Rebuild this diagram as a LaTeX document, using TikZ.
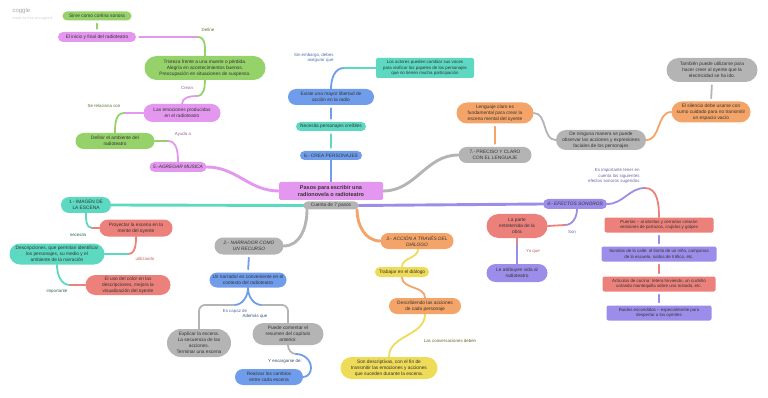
\documentclass[tikz,border=0pt]{standalone}
\usepackage{fontspec}
\setmainfont{Liberation Sans}
\usetikzlibrary{shapes.misc}
\pgfdeclarelayer{background}
\pgfsetlayers{background,main}

\definecolor{cgreen}{HTML}{96D26A}
\definecolor{cpink}{HTML}{E397EE}
\definecolor{cteal}{HTML}{5DD9C1}
\definecolor{cblue}{HTML}{6F9DEB}
\definecolor{cgray}{HTML}{B4B4B4}
\definecolor{corange}{HTML}{F4A468}
\definecolor{cyellow}{HTML}{EEDB58}
\definecolor{cred}{HTML}{EC817B}
\definecolor{cpurple}{HTML}{9D8DEB}
\definecolor{ctext}{HTML}{333333}

\tikzset{
  pill/.style={fill=#1, rounded rectangle, align=center, inner sep=1pt, text=ctext, font=\fontsize{4.8}{6}\selectfont},
  tag/.style={fill=#1, rounded corners=2pt, align=center, inner sep=1pt, text=ctext, font=\fontsize{4.4}{5.6}\selectfont},
  link/.style={draw=#1, line width=1.8pt, line cap=round},
  trunk/.style={draw=#1, line width=2.9pt, line cap=round},
  lbl/.style={text=#1, align=center, font=\fontsize{4.4}{5.4}\selectfont},
}

\begin{document}
\begin{tikzpicture}[x=1pt,y=-1pt]
\useasboundingbox (0,0) rectangle (768,398);

% watermark
\node[anchor=west, text=black!35, font=\fontsize{6}{6}\selectfont] (logo) at (9,11) {coggle};
\node[anchor=west, text=black!20, font=\fontsize{3.6}{4}\selectfont] (made) at (9,19) {made for free at coggle.it};

% root
\node[fill=cpink, rounded corners=1.5pt, minimum width=104, minimum height=18, align=center, inner sep=1pt, text=ctext, font=\bfseries\fontsize{5.5}{7}\selectfont] (central) at (331,191) {Pasos para escribir una\\radionovela o radioteatro};
\node[pill=cgray, minimum width=57, minimum height=8] (cuenta) at (331,205.5) {Cuenta de 7 pasos};

% 5 - musica
\node[pill=cgreen, minimum width=71, minimum height=9] (sirve) at (97,16) {Sirve como cortina sonora};
\node[pill=cpink, minimum width=80, minimum height=10] (inicio) at (97,37) {El inicio y final del radioteatro};
\node[pill=cgreen, minimum width=123, minimum height=24] (tristeza) at (205,68) {Tristeza frente a una muerte o pérdida.\\Alegría en acontecimientos buenos.\\Preocupación en situaciones de suspenso.};
\node[pill=cpink, minimum width=79, minimum height=18] (emociones) at (182,113) {Las emociones producidas\\en el radioteatro};
\node[pill=cgreen, minimum width=81, minimum height=16] (ambiente) at (115,141) {Definir el ambiente del\\radioteatro};
\node[pill=cpink, minimum width=59, minimum height=10, font=\itshape\fontsize{4.8}{6}\selectfont] (musica) at (178,167) {5.-AGREGAR MUSICA};

% 6 - personajes
\node[pill=cblue, minimum width=64, minimum height=9] (crea) at (331,155.5) {6.- CREA PERSONAJES};
\node[pill=cteal, minimum width=72, minimum height=9] (necesita) at (331,126.5) {Necesita personajes creíbles};
\node[pill=cblue, minimum width=88, minimum height=16] (existe) at (331,97) {Existe una mayor libertad de\\acción en la radio};
\node[tag=cteal, minimum width=98, minimum height=20] (actores) at (425,68) {Los actores pueden cambiar sus voces\\para vivificar los papeles de los personajes\\que no tienen mucha participación};

% 7 - lenguaje
\node[pill=cgray, minimum width=75, minimum height=16] (preciso) at (495,155) {7.- PRECISO Y CLARO\\CON EL LENGUAJE};
\node[pill=corange, minimum width=79, minimum height=21] (lenguaje) at (495,113) {Lenguaje claro es\\fundamental para crear la\\escena mental del oyente};
\node[pill=cgray, minimum width=92, minimum height=20] (ninguna) at (601,140) {De ninguna manera se puede\\observar las acciones y expresiones\\faciales de los personajes};
\node[pill=corange, minimum width=81, minimum height=21] (silencio) at (711,112) {El silencio debe usarse con\\sumo cuidado para no transmitir\\un espacio vacío};
\node[pill=cgray, minimum width=93, minimum height=24] (tambien) at (712,70) {También puede utilizarse para\\hacer creer al oyente que la\\electricidad se ha ido.};

% 1 - imagen
\node[pill=cteal, minimum width=52, minimum height=16] (imagen) at (86,205) {1 - IMAGEN DE\\LA ESCENA};
\node[pill=cred, minimum width=75, minimum height=17] (proyectar) at (136,228) {Proyectar la escena en la\\mente del oyente};
\node[pill=cteal, minimum width=97, minimum height=21] (descripciones) at (57,254) {Descripciones, que permitan identificar\\los personajes, su medio y el\\ambiente de la narración};
\node[pill=cred, minimum width=87, minimum height=20] (color) at (128,285) {El uso del color en las\\descripciones, mejora la\\visualización del oyente};

% 2 - narrador
\node[pill=cgray, minimum width=71, minimum height=17, font=\itshape\fontsize{4.8}{6}\selectfont] (narrador) at (249,246) {2.- NARRADOR COMO\\UN RECURSO};
\node[pill=cblue, minimum width=79, minimum height=15] (unnarr) at (248,280) {Un narrador es conveniente en el\\contexto del radioteatro};
\node[pill=cgray, minimum width=66, minimum height=28] (explicar) at (199,343) {Explicar la escena.\\La secuencia de las\\acciones.\\Terminar una escena};
\node[pill=cgray, minimum width=73, minimum height=22] (puede) at (288,334) {Puede comentar el\\resumen del capítulo\\anterior.};
\node[pill=cblue, minimum width=70, minimum height=16] (realizar) at (269,377) {Realizar los cambios\\entre cada escena};

% 3 - accion
\node[pill=corange, minimum width=75, minimum height=16, font=\itshape\fontsize{4.8}{6}\selectfont] (accion) at (417,241) {3.- ACCIÓN A TRAVÉS DEL\\DIÁLOGO};
\node[pill=cyellow, minimum width=56, minimum height=10] (trabajar) at (402,272) {Trabajar en el diálogo};
\node[pill=corange, minimum width=74, minimum height=16] (describiendo) at (425,306) {Describiendo las acciones\\de cada personaje};
\node[pill=cyellow, minimum width=99, minimum height=22] (sondesc) at (389,368) {Son descriptivas, con el fin de\\transmitir las emociones y acciones\\que suceden durante la escena.};

% 4 - efectos
\node[pill=cpurple, minimum width=66, minimum height=10, font=\itshape\fontsize{4.8}{6}\selectfont] (efectos) at (575,204) {4.- EFECTOS SONOROS};
\node[tag=cred, minimum width=109, minimum height=15] (puertas) at (659,225) {Puertas -- al abrirlas y cerrarlas crearán\\versiones de portazos, crujidos y golpes};
\node[tag=cpurple, minimum width=115, minimum height=15] (sonidos) at (659,254) {Sonidos de la calle: el llanto de un niño, campanas\\de la escuela, ruidos de tráfico, etc.};
\node[tag=cred, minimum width=113, minimum height=15] (articulos) at (659,284) {Artículos de cocina: tetera hirviendo, un cuchillo\\untando mantequilla sobre una tostada, etc.};
\node[tag=cpurple, minimum width=105, minimum height=15] (ruidos) at (659,313) {Ruidos escondidos -- especialmente para\\despertar a los oyentes};
\node[pill=cred, minimum width=63, minimum height=24] (laparte) at (517,226) {La parte\\entretenida de la\\obra};
\node[pill=cpurple, minimum width=63, minimum height=18] (atribuyen) at (517,273) {Le atribuyen vida al\\radioteatro};

% bends
\coordinate (m1) at (198,37);
\coordinate (m2) at (197,96);
\coordinate (m3) at (124,113);
\coordinate (m4) at (168,141);
\coordinate (m5) at (344,68);
\coordinate (m6) at (234,305);
\coordinate (m7) at (262,305);
\coordinate (m8) at (296,354);
\coordinate (m9) at (311,368);
\coordinate (m10) at (645,188);
\coordinate (m11) at (565,225);
\coordinate (m12) at (517,244);
\coordinate (m13) at (92,228);
\coordinate (m14) at (128,254);
\coordinate (m15) at (70,285);

% labels
\node[lbl=cgreen!55!black] (lDefine) at (208,30) {Define};
\node[lbl=cpink!65!black] (lCrean) at (187,88) {Crean};
\node[lbl=cgreen!55!black] (lRelaciona) at (104,106) {Se relaciona con};
\node[lbl=cpink!65!black] (lAyuda) at (183,134) {Ayuda a};
\node[lbl=cblue!70!black, align=right, anchor=east] (lSin) at (337,58) {Sin embargo, debes\\asegurar que};
\node[lbl=cteal!45!black] (lNecesita) at (78,235) {necesita};
\node[lbl=cred!80!black] (lUtilizando) at (145,259) {utilizando};
\node[lbl=cteal!45!black] (lImportante) at (57,291) {importante};
\node[lbl=cblue!70!black] (lCapaz) at (235,311) {Es capaz de};
\node[lbl=cblue!50!black] (lAdemas) at (255,316) {Además que};
\node[lbl=cblue!45!black] (lEncargarse) at (285,361) {Y encargarse de:};
\node[lbl=cyellow!45!black] (lConversaciones) at (450,341) {Las conversaciones deben};
\node[lbl=cpurple!70!black, align=right, anchor=east] (lTener) at (643,176) {Es importante tener en\\cuenta los siguientes\\efectos sonoros sugeridos};
\node[lbl=cpurple!70!black] (lSon) at (572,232) {Son};
\node[lbl=cred!80!black] (lYaque) at (533,251) {Ya que};

\begin{pgfonlayer}{background}
% 5 - musica
\draw[link=cgreen, shorten <=3pt, shorten >=3pt] (sirve.south) -- (inicio.north);
\draw[link=cpink] ([xshift=3]inicio.east) -- (m1);
\draw[link=cgreen] (m1) to[out=0,in=90] (tristeza.north);
\draw[link=cgreen] (tristeza.south) to[out=-90,in=0] (m2);
\draw[link=cpink] (m2) to[out=180,in=90] (emociones.north);
\draw[link=cpink] (emociones.west) -- (m3);
\draw[link=cgreen] (m3) to[out=180,in=90] (ambiente.north);
\draw[link=cgreen] (ambiente.east) -- (m4);
\draw[link=cpink] (m4) to[out=0,in=90] (musica.north);
\draw[trunk=cpink] (musica.east) to[out=0,in=180] (central.west);

% 6 - personajes
\draw[trunk=cblue] (central.north) -- (crea.south);
\draw[link=cteal, shorten <=3pt, shorten >=3pt] (crea.north) -- (necesita.south);
\draw[link=cblue, shorten <=3pt, shorten >=3pt] (necesita.north) -- (existe.south);
\draw[link=cblue] (existe.north) to[out=90,in=180] (m5);
\draw[link=cteal] (m5) -- (actores.west);

% 7 - lenguaje
\draw[trunk=cgray] (central.east) to[out=0,in=180] (preciso.west);
\draw[link=corange, shorten <=3pt, shorten >=3pt] (preciso.north) -- (lenguaje.south);
\draw[link=cgray] (lenguaje.east) to[out=0,in=180] (ninguna.west);
\draw[link=corange] (ninguna.east) to[out=0,in=180] (silencio.west);
\draw[link=cgray, shorten <=3pt, shorten >=3pt] (silencio.north) -- (tambien.south);

% trunks
\draw[trunk=cteal] (cuenta.west) -- (imagen.east);
\draw[trunk=cpurple] (cuenta.east) -- (efectos.west);
\draw[trunk=cgray] ([xshift=-24]cuenta.south) to[out=-90,in=0] (narrador.east);
\draw[trunk=corange] ([xshift=26]cuenta.south) to[out=-90,in=180] (accion.west);

% 1 - imagen
\draw[link=cteal] (imagen.south) to[out=-90,in=180] (m13);
\draw[link=cred] (m13) -- (proyectar.west);
\draw[link=cred] (proyectar.south) to[out=-90,in=0] (m14);
\draw[link=cteal] (m14) -- (descripciones.east);
\draw[link=cteal] (descripciones.south) to[out=-90,in=180] (m15);
\draw[link=cred] (m15) -- (color.west);

% 2 - narrador
\draw[link=cblue, shorten <=3pt, shorten >=3pt] (narrador.south) -- (unnarr.north);
\draw[link=cblue] (unnarr.south) to[out=-90,in=0] (m6);
\draw[link=cgray, rounded corners=6pt] (m6) -| (explicar.north);
\draw[link=cblue] (unnarr.south) to[out=-90,in=180] (m7);
\draw[link=cgray, rounded corners=6pt] (m7) -| (puede.north);
\draw[link=cgray] (puede.south) to[out=-90,in=180] (m8);
\draw[link=cblue] (m8) to[out=0,in=90] (m9) to[out=-90,in=0] (realizar.east);

% 3 - accion
\draw[link=cyellow] ([xshift=1]accion.south) to[out=-90,in=90] (trabajar.north);
\draw[link=corange] (trabajar.south) to[out=-90,in=90] (describiendo.north);
\draw[link=cyellow] (describiendo.south) to[out=-90,in=90] (sondesc.north);

% 4 - efectos
\draw[link=cpurple] (efectos.east) to[out=0,in=180] (m10);
\draw[link=cred] (m10) to[out=0,in=90] (puertas.north);
\draw[link=cpurple, shorten <=3pt, shorten >=3pt] (puertas.south) -- (sonidos.north);
\draw[link=cred, shorten <=3pt, shorten >=3pt] (sonidos.south) -- (articulos.north);
\draw[link=cpurple, shorten <=3pt, shorten >=3pt] (articulos.south) -- (ruidos.north);
\draw[link=cpurple] ([xshift=2]efectos.south) to[out=-90,in=0] (m11);
\draw[link=cred] (m11) -- (laparte.east);
\draw[link=cred] (laparte.south) -- (m12);
\draw[link=cpurple] (m12) -- (atribuyen.north);
\end{pgfonlayer}
\end{tikzpicture}
\end{document}
